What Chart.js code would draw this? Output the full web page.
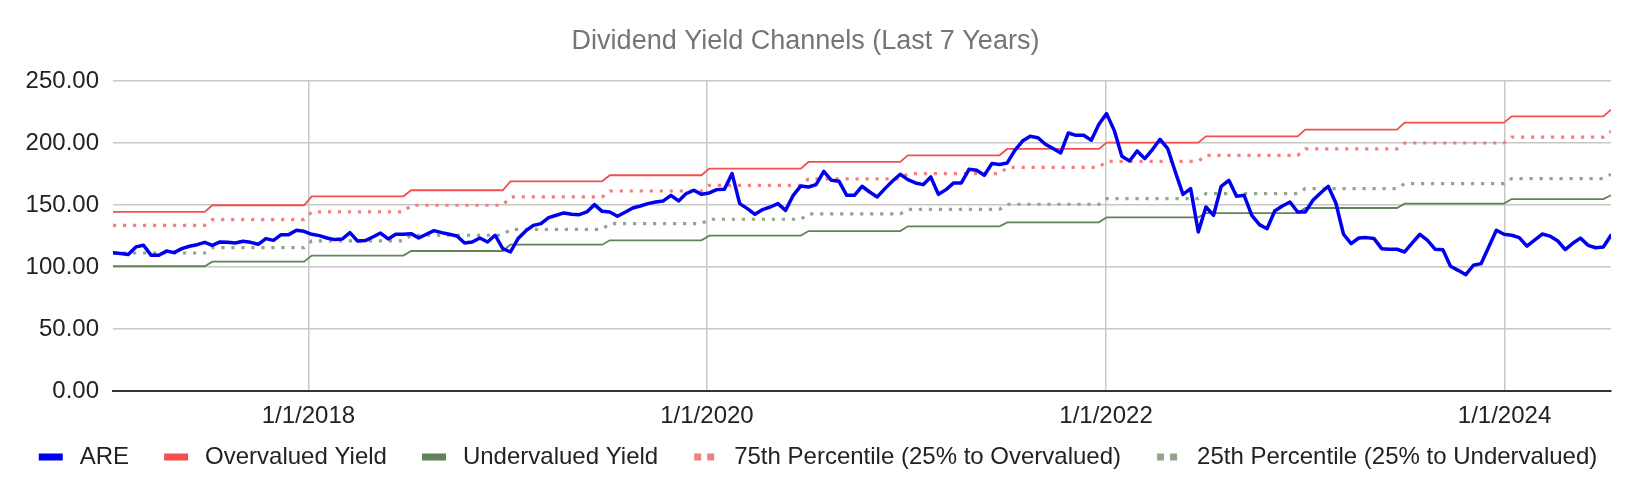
<!DOCTYPE html>
<html>
<head>
<meta charset="utf-8">
<script src="https://cdn.jsdelivr.net/npm/chart.js@4.4.1/dist/chart.umd.min.js"></script>
<style>
  html, body { margin: 0; padding: 0; background: #fff; }
</style>
</head>
<body>
<canvas id="chart" width="1636" height="494"></canvas>
<script>
// Bi-weekly sample dates (first point and spacing)
const firstDate = '2017-01-08';
const stepDays = 14;
const pointCount = 197;

// ARE price
const arePrices = [
  111.6, 110.8, 110.0, 116.2, 117.5, 109.4, 109.4, 112.9, 111.6, 114.8,
  116.7, 118.0, 119.9, 117.5, 120.2, 119.9, 119.4, 120.7, 119.9, 118.3,
  122.9, 121.5, 126.1, 126.1, 129.6, 128.8, 126.4, 125.3, 123.4, 122.1,
  122.6, 127.7, 121.0, 121.3, 124.2, 127.4, 122.6, 126.4, 126.4, 126.9,
  123.4, 126.4, 129.3, 127.7, 126.4, 125.0, 119.4, 120.2, 123.4, 120.2,
  125.6, 114.8, 112.1, 122.9, 129.1, 133.6, 135.0, 139.8, 141.7, 143.6,
  142.5, 142.2, 144.4, 150.3, 144.9, 144.4, 140.9, 144.1, 147.6, 149.2,
  151.1, 152.4, 153.3, 157.8, 153.3, 159.2, 161.9, 158.6, 159.7, 162.4,
  162.7, 175.3, 151.1, 147.1, 142.5, 146.3, 148.4, 151.1, 145.7, 157.8,
  165.4, 164.5, 166.4, 177.2, 169.9, 169.1, 157.8, 157.8, 165.1, 160.5,
  156.5, 163.2, 169.4, 174.8, 170.5, 167.8, 166.4, 172.6, 158.6, 162.4,
  167.8, 167.8, 178.8, 178.0, 174.0, 183.4, 182.6, 183.9, 194.1, 201.6,
  205.4, 204.3, 199.0, 195.5, 192.0, 208.1, 206.2, 206.2, 202.2, 215.1,
  223.7, 210.2, 189.3, 185.5, 193.6, 187.4, 194.7, 203.0, 195.5, 176.6,
  158.6, 163.2, 128.3, 148.4, 141.7, 165.1, 169.9, 157.0, 157.8, 141.7,
  134.2, 130.9, 145.2, 149.2, 152.4, 144.4, 144.4, 153.8, 159.7, 165.1,
  151.6, 126.4, 118.8, 123.4, 123.7, 122.9, 114.8, 114.3, 114.3, 112.1,
  119.4, 126.4, 121.5, 114.3, 114.0, 100.6, 97.3, 93.8, 101.4, 102.7,
  116.2, 129.6, 126.4, 125.6, 123.7, 116.8, 121.6, 126.6, 124.9, 121.2,
  114.1, 119.1, 123.3, 117.5, 115.5, 116.1, 125.6
];

// Channel levels change every half year
const periodStarts = [
  '2017-01-01', '2017-07-01', '2018-01-01', '2018-07-01',
  '2019-01-01', '2019-07-01', '2020-01-01', '2020-07-01',
  '2021-01-01', '2021-07-01', '2022-01-01', '2022-07-01',
  '2023-01-01', '2023-07-01', '2024-01-01', '2024-07-01'
];
const overvaluedLevels = [144.4, 149.8, 157.0, 161.9, 169.1, 174.0, 179.3, 184.7, 190.1, 195.2, 200.3, 205.4, 210.8, 216.4, 221.5, 226.9];
const undervaluedLevels = [100.6, 104.3, 109.2, 112.9, 118.0, 121.5, 125.3, 129.0, 132.8, 136.0, 140.1, 143.5, 147.6, 151.1, 154.8, 157.8];
const p75Levels = [133.6, 138.2, 144.4, 149.8, 156.5, 161.3, 165.9, 171.0, 175.3, 180.4, 185.2, 190.1, 195.2, 200.0, 204.8, 209.4];
const p25Levels = [111.3, 115.6, 121.0, 125.6, 130.4, 135.0, 138.5, 142.8, 146.5, 150.6, 155.2, 159.2, 163.2, 167.3, 171.3, 174.8];

const xTickDates = ['2018-01-01', '2020-01-01', '2022-01-01', '2024-01-01'];
const xTickLabels = ['1/1/2018', '1/1/2020', '1/1/2022', '1/1/2024'];
const yTickValues = [0, 50, 100, 150, 200, 250];
const yTickLabels = ['0.00', '50.00', '100.00', '150.00', '200.00', '250.00'];

const DAY = 86400000;
const toMs = (s) => Date.parse(s + 'T00:00:00Z');

const xs = [];
for (let i = 0; i < pointCount; i++) xs.push(toMs(firstDate) + i * stepDays * DAY);

const periodMs = periodStarts.map(toMs);
const levelAt = (levels, x) => {
  let k = 0;
  while (k + 1 < periodMs.length && periodMs[k + 1] <= x) k++;
  return levels[k];
};

const series = (values) => xs.map((x, i) => ({ x, y: values[i] }));
const stepSeries = (levels) => xs.map((x) => ({ x, y: levelAt(levels, x) }));

const colors = {
  are: '#0000ee',
  over: '#f25050',
  under: '#62835a',
  p75: '#f08080',
  p25: '#93a68b'
};

// legend swatches: small canvases, swatch sits in the right part of a wide box
const SW = 54, SH = 8, SL = 25;
function swatch(color, dotted) {
  const c = document.createElement('canvas');
  c.width = SW;
  c.height = SH;
  const g = c.getContext('2d');
  g.fillStyle = color;
  if (dotted) {
    g.fillRect(SL + 1, 0.5, 7, 7);
    g.fillRect(SL + 14, 0.5, 7, 7);
  } else {
    g.fillRect(SL, 0.5, 24, 7);
  }
  return c;
}
const swatches = [
  swatch(colors.are, false),
  swatch(colors.over, false),
  swatch(colors.under, false),
  swatch(colors.p75, true),
  swatch(colors.p25, true)
];

Chart.defaults.font.family = "'Liberation Sans', Arial, sans-serif";
Chart.defaults.color = '#222';

const gridStyle = { color: '#c8c8c8', lineWidth: 1.5, drawTicks: false };

new Chart(document.getElementById('chart'), {
  type: 'line',
  data: {
    datasets: [
      {
        label: 'ARE',
        data: series(arePrices),
        borderColor: colors.are,
        backgroundColor: colors.are,
        borderWidth: 3.5,
        borderJoinStyle: 'round',
        borderCapStyle: 'round'
      },
      {
        label: 'Overvalued Yield',
        data: stepSeries(overvaluedLevels),
        borderColor: colors.over,
        backgroundColor: colors.over,
        borderWidth: 1.8
      },
      {
        label: 'Undervalued Yield',
        data: stepSeries(undervaluedLevels),
        borderColor: colors.under,
        backgroundColor: colors.under,
        borderWidth: 1.8
      },
      {
        label: '75th Percentile (25% to Overvalued)',
        data: stepSeries(p75Levels),
        borderColor: colors.p75,
        backgroundColor: colors.p75,
        borderWidth: 3.2,
        borderDash: [3.2, 6.8]
      },
      {
        label: '25th Percentile (25% to Undervalued)',
        data: stepSeries(p25Levels),
        borderColor: colors.p25,
        backgroundColor: colors.p25,
        borderWidth: 3.2,
        borderDash: [3.2, 6.8]
      }
    ]
  },
  options: {
    responsive: false,
    animation: false,
    events: [],
    elements: {
      point: { radius: 0 },
      line: { tension: 0, fill: false }
    },
    layout: { padding: { top: 0, right: 25, bottom: 15, left: 0 } },
    plugins: {
      title: {
        display: true,
        text: 'Dividend Yield Channels (Last 7 Years)',
        color: '#757575',
        font: { size: 27, weight: 'normal' },
        padding: { top: 25, bottom: 23.6 }
      },
      legend: {
        position: 'bottom',
        labels: {
          usePointStyle: true,
          pointStyleWidth: SW,
          boxHeight: SH,
          padding: 10,
          color: '#222',
          font: { size: 24 },
          generateLabels: (chart) =>
            Chart.defaults.plugins.legend.labels.generateLabels(chart)
              .map((item, i) => ({ ...item, pointStyle: swatches[i] }))
        }
      },
      tooltip: { enabled: false }
    },
    scales: {
      x: {
        type: 'linear',
        min: xs[0],
        max: xs[xs.length - 1],
        afterBuildTicks: (scale) => {
          scale.ticks = xTickDates.map((d) => ({ value: toMs(d) }));
        },
        afterFit: (scale) => { scale.height = 44; },
        grid: gridStyle,
        border: { display: true, color: '#333', width: 2 },
        ticks: {
          padding: 11,
          color: '#222',
          font: { size: 24 },
          maxRotation: 0,
          autoSkip: false,
          callback: (value) => xTickLabels[xTickDates.map(toMs).indexOf(value)] || ''
        }
      },
      y: {
        min: 0,
        max: 250,
        afterBuildTicks: (scale) => {
          scale.ticks = yTickValues.map((v) => ({ value: v }));
        },
        afterFit: (scale) => { scale.width = 113; },
        grid: gridStyle,
        border: { display: false },
        ticks: {
          padding: 14,
          color: '#222',
          font: { size: 24 },
          callback: (value) => yTickLabels[yTickValues.indexOf(value)]
        }
      }
    }
  }
});
</script>
</body>
</html>
